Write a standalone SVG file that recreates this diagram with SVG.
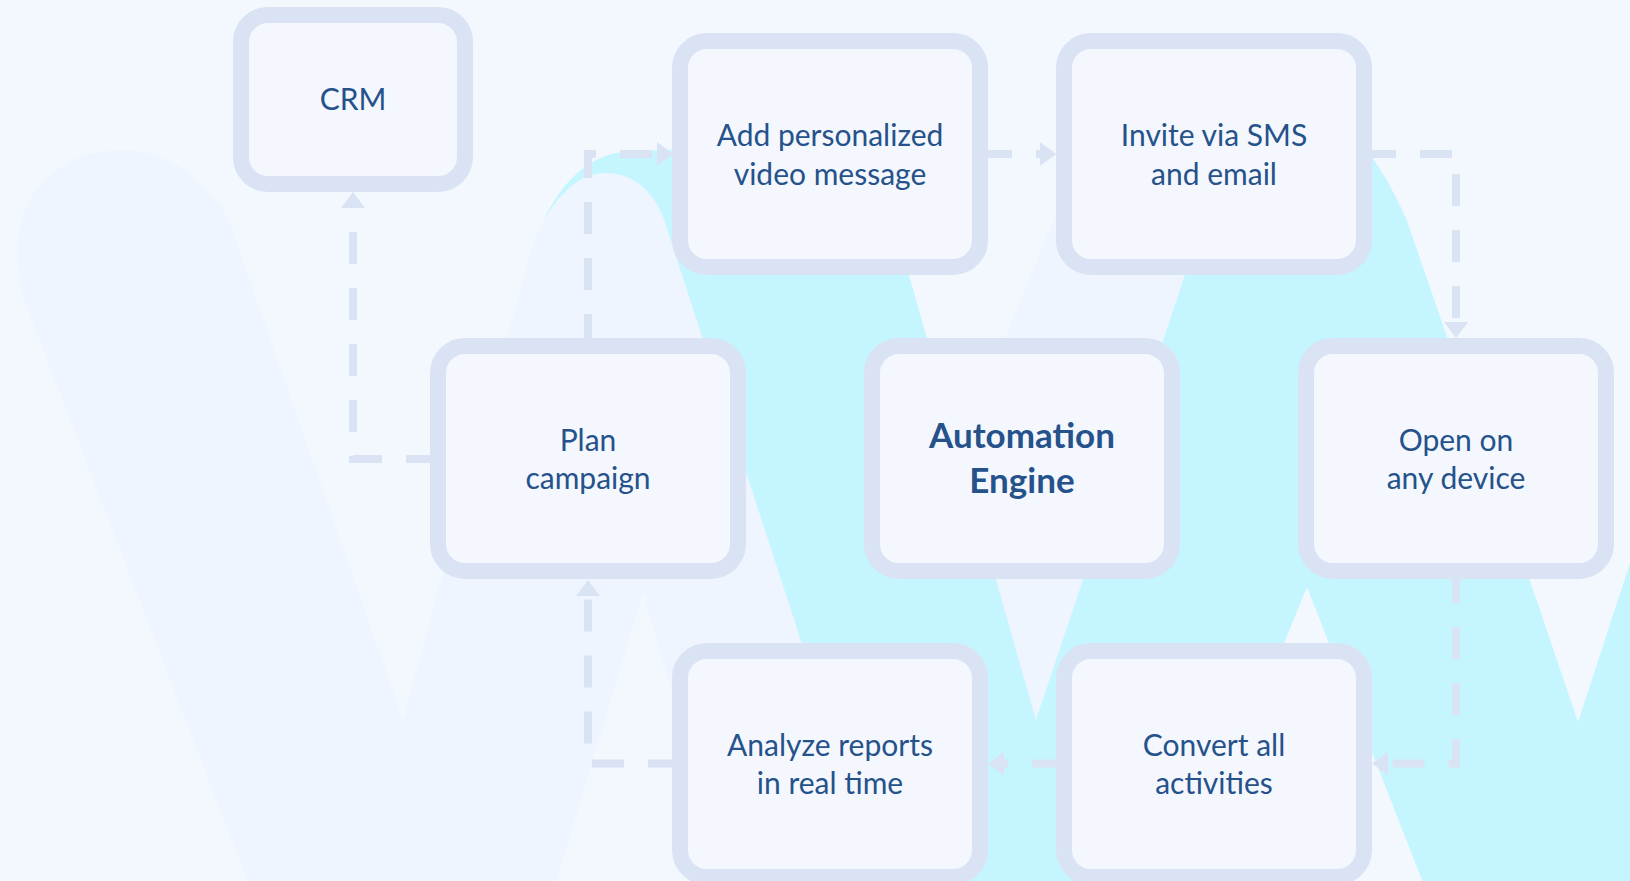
<svg xmlns="http://www.w3.org/2000/svg" width="1630" height="881" viewBox="0 0 1630 881">
<style>
.bg{fill:#F3F7FE}
.pale{fill:#EEF5FE}
.cyan{fill:#C5F6FF}
.box{fill:#F4F7FE;stroke:#DAE3F3;stroke-width:16}
.lbl{font-family:Lato,"Open Sans","Liberation Sans",sans-serif;font-size:30px;fill:#25528A;text-anchor:middle}
.bold{font-weight:700;font-size:35px}
.conn{fill:none;stroke:#DAE3F3;stroke-width:8;stroke-dasharray:32 24}
</style>
<defs>
<marker id="arr" viewBox="0 0 16 24" refX="0" refY="12" markerWidth="16" markerHeight="24" markerUnits="userSpaceOnUse" orient="auto">
<path d="M0,0 L16,12 L0,24 Z" fill="#DAE3F3"/>
</marker>
</defs>
<g id="background">
<rect class="bg" x="0" y="0" width="1630" height="881"/>
<polygon class="pale" points="1064,195 1300,195 1290,560 1240,730 844,730"/>
<path class="cyan" d="M600,330 L546,216 C560,186 588,154 625,152 L700,148 L700,60 L880,60 L909,275 L1036,720 L1185,275 L1215,100 L1300,95 C1345,108 1385,170 1406,218 L1447,337 L1578,722 L1635,548 L1635,890 L1426,890 L1307,587 L1183,890 L880,890 L700,337 Z"/>
<path class="pale" d="M251,890 L27,307 C12,262 14,215 40,185 C62,160 95,149 127,150 C165,151 205,178 228,218 L403,720 L528,262 C540,215 570,173 605,173 C640,173 660,200 668,232 L882,890 L729,890 L643,592 L554,890 Z"/>
</g>
<g id="node-crm">
<rect class="box" x="241" y="15" width="224" height="169" rx="27"/>
<text class="lbl" x="353" y="110">CRM</text>
</g>
<g id="node-add-video">
<rect class="box" x="680" y="41" width="300" height="226" rx="27"/>
<text class="lbl" x="830" y="146">Add personalized</text>
<text class="lbl" x="830" y="184.5">video message</text>
</g>
<g id="node-invite">
<rect class="box" x="1064" y="41" width="300" height="226" rx="27"/>
<text class="lbl" x="1214" y="146">Invite via SMS</text>
<text class="lbl" x="1214" y="184.5">and email</text>
</g>
<g id="node-plan">
<rect class="box" x="438" y="346" width="300" height="225" rx="27"/>
<text class="lbl" x="588" y="450.5">Plan</text>
<text class="lbl" x="588" y="489">campaign</text>
</g>
<g id="node-engine">
<rect class="box" x="872" y="346" width="300" height="225" rx="27"/>
<text class="lbl bold" x="1022" y="448">Automation</text>
<text class="lbl bold" x="1022" y="493">Engine</text>
</g>
<g id="node-open">
<rect class="box" x="1306" y="346" width="300" height="225" rx="27"/>
<text class="lbl" x="1456" y="450.5">Open on</text>
<text class="lbl" x="1456" y="489">any device</text>
</g>
<g id="node-analyze">
<rect class="box" x="680" y="651" width="300" height="226" rx="27"/>
<text class="lbl" x="830" y="755.5">Analyze reports</text>
<text class="lbl" x="830" y="794">in real time</text>
</g>
<g id="node-convert">
<rect class="box" x="1064" y="651" width="300" height="226" rx="27"/>
<text class="lbl" x="1214" y="755.5">Convert all</text>
<text class="lbl" x="1214" y="794">activities</text>
</g>
<g id="connectors">
<path class="conn" d="M438,459 H353 V208" marker-end="url(#arr)"/>
<path class="conn" d="M588,346 V154 H657" marker-end="url(#arr)"/>
<path class="conn" d="M980,154 H1040" marker-end="url(#arr)"/>
<path class="conn" d="M1364,154 H1456 V322" marker-end="url(#arr)"/>
<path class="conn" d="M1456,571 V763.5 H1388" marker-end="url(#arr)"/>
<path class="conn" d="M1064,763.5 H1004" marker-end="url(#arr)"/>
<path class="conn" d="M680,763.5 H588 V596" marker-end="url(#arr)"/>
</g>
</svg>
